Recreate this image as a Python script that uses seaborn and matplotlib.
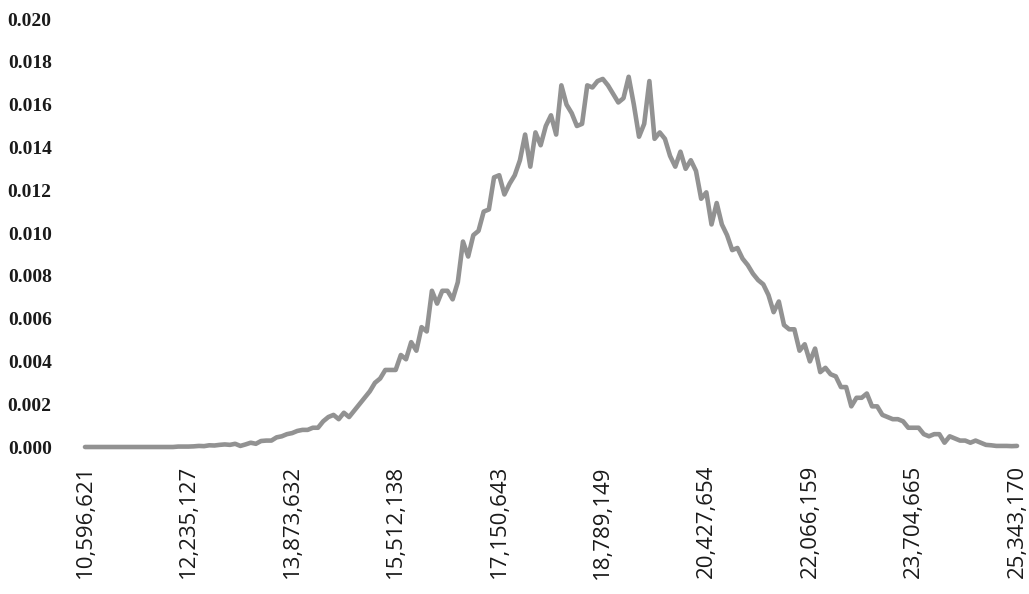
import matplotlib
matplotlib.use("Agg")
import matplotlib.pyplot as plt
import seaborn as sns
import numpy as np
import pandas as pd

# Density values, one per category (bin)
density = [
    0.0, 0.0, 0.0, 0.0, 0.0, 0.0, 0.0, 0.0, 0.0, 0.0,
    0.0, 0.0, 0.0, 0.0, 0.0, 0.0, 0.0, 0.0, 0.00002, 0.00002,
    0.00002, 0.00003, 0.00005, 0.00004, 0.00008, 0.00007, 0.0001, 0.00012, 0.0001, 0.00015,
    0.00005, 0.00012, 0.0002, 0.00015, 0.00028, 0.0003, 0.0003, 0.00045, 0.0005, 0.0006,
    0.00065, 0.00075, 0.0008, 0.0008, 0.0009, 0.0009, 0.0012, 0.0014, 0.0015, 0.0013,
    0.0016, 0.0014, 0.0017, 0.0020, 0.0023, 0.0026, 0.0030, 0.0032, 0.0036, 0.0036,
    0.0036, 0.0043, 0.0041, 0.0049, 0.0045, 0.0056, 0.0054, 0.0073, 0.0067, 0.0073,
    0.0073, 0.0069, 0.0077, 0.0096, 0.0089, 0.0099, 0.0101, 0.0110, 0.0111, 0.0126,
    0.0127, 0.0118, 0.0123, 0.0127, 0.0134, 0.0146, 0.0131, 0.0147, 0.0141, 0.0150,
    0.0155, 0.0146, 0.0169, 0.0160, 0.0156, 0.0150, 0.0151, 0.0169, 0.0168, 0.0171,
    0.0172, 0.0169, 0.0165, 0.0161, 0.0163, 0.0173, 0.0160, 0.0145, 0.0151, 0.0171,
    0.0144, 0.0147, 0.0144, 0.0136, 0.0131, 0.0138, 0.0130, 0.0134, 0.0129, 0.0116,
    0.0119, 0.0104, 0.0114, 0.0104, 0.0099, 0.0092, 0.0093, 0.0088, 0.0085, 0.0081,
    0.0078, 0.0076, 0.0071, 0.0063, 0.0068, 0.0057, 0.0055, 0.0055, 0.0045, 0.0048,
    0.0040, 0.0046, 0.0035, 0.0037, 0.0034, 0.0033, 0.0028, 0.0028, 0.0019, 0.0023,
    0.0023, 0.0025, 0.0019, 0.0019, 0.0015, 0.0014, 0.0013, 0.0013, 0.0012, 0.0009,
    0.0009, 0.0009, 0.0006, 0.0005, 0.0006, 0.0006, 0.0002, 0.0005, 0.0004, 0.0003,
    0.0003, 0.0002, 0.0003, 0.0002, 0.0001, 0.00008, 0.00005, 0.00005, 0.00005, 0.00004,
    0.00005,
]
category = list(range(len(density)))

# Category-axis labels shown every 20 categories
tick_labels = ["10,596,621", "12,235,127", "13,873,632", "15,512,138", "17,150,643",
               "18,789,149", "20,427,654", "22,066,159", "23,704,665", "25,343,170"]
tick_every = 20
y_ticks = [0.000, 0.002, 0.004, 0.006, 0.008, 0.010, 0.012, 0.014, 0.016, 0.018, 0.020]

df = pd.DataFrame({"cat": category, "density": density})

sns.set_theme(style="white")
fig = plt.figure(figsize=(10.29, 5.94), dpi=100)
ax = fig.add_axes([85 / 1029, (594 - 447) / 594, (1017 - 85) / 1029, (447 - 19) / 594])

sns.lineplot(data=df, x="cat", y="density", ax=ax, color="#929292", linewidth=3.3,
             solid_joinstyle="round", solid_capstyle="round")
for ln in ax.lines:
    ln.set_clip_on(False)

ax.set_xlim(0, len(density) - 1)
ax.set_ylim(0, 0.020)
ax.set_xlabel("")
ax.set_ylabel("")
for s in ax.spines.values():
    s.set_visible(False)

ax.set_yticks(y_ticks)
ax.set_yticklabels([f"{v:.3f}" for v in y_ticks], family=["Liberation Serif"], fontsize=14,
                   fontweight="bold", color="#1a1a1a")
xt = list(range(0, len(density), tick_every))
ax.set_xticks(xt)
ax.set_xticklabels(tick_labels[:len(xt)], rotation=90, family=["Open Sans", "DejaVu Sans"],
                   fontsize=16, color="#1a1a1a")
ax.tick_params(axis="y", length=0, pad=24)
ax.tick_params(axis="x", length=0, pad=13)

fig.savefig("out.png", dpi=100)
